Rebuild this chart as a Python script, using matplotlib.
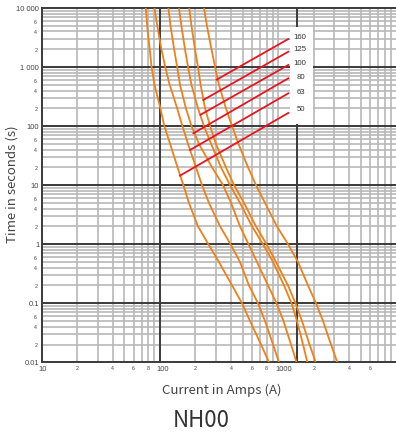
import matplotlib
matplotlib.use('Agg')
import matplotlib.pyplot as plt
from matplotlib.patches import Rectangle
from matplotlib.ticker import NullLocator
from matplotlib.transforms import ScaledTranslation

# Temps (s) auxquels les courants ont été relevés
times = [10000, 5000, 2000, 1000, 500, 200, 100, 50, 20, 10, 5, 2, 1,
         0.5, 0.2, 0.1, 0.05, 0.02, 0.01]

# Courant (A) de chaque calibre, un point par temps
amps_50 = [76, 78, 82, 85, 90, 101, 109, 122, 141, 158, 176, 210, 257, 316, 408, 495, 579, 717, 838]
amps_63 = [90, 95, 103, 111, 121, 140, 155, 173, 202, 227, 260, 323, 396, 476, 567, 676, 775, 906, 1018]
amps_80 = [118, 123, 132, 140, 148, 166, 185, 214, 276, 342, 400, 476, 562, 663, 822, 970, 1111, 1286, 1432]
amps_100 = [145, 152, 163, 173, 185, 210, 236, 271, 329, 392, 476, 602, 745, 906, 1122, 1299, 1446, 1626, 1767]
amps_125 = [177, 185, 198, 210, 221, 241, 266, 298, 362, 424, 515, 650, 798, 960, 1213, 1404, 1593, 1844, 2081]
amps_160 = [236, 250, 273, 293, 316, 362, 408, 462, 557, 650, 775, 979, 1213, 1474, 1791, 2093, 2399, 2803, 3169]

# Repères rouges : du point sur la courbe vers l'étiquette
ratings = ['160', '125', '100', '80', '63', '50']
pointer_start_amps = [302, 233, 221, 192, 180, 148]
pointer_start_times = [611, 277, 156, 75.5, 39.4, 14.5]
pointer_end_amps = [1220, 1220, 1220, 1220, 1220, 1220]
pointer_end_times = [2985, 1820, 1083, 645, 359, 167]
label_amps = [1520, 1520, 1520, 1560, 1560, 1560]
label_times = [3317, 2022, 1203, 686, 388, 195]

# Graduations
x_major = [10, 100, 1000]
x_major_labels = ['10', '100', '1000']
x_minor = [20, 40, 60, 80, 200, 400, 600, 800, 2000, 4000, 6000]
x_minor_labels = ['2', '4', '6', '8', '2', '4', '6', '8', '2', '4', '6']
y_major = [0.01, 0.1, 1, 10, 100, 1000, 10000]
y_major_labels = ['0.01', '0.1', '1', '10', '100', '1 000', '10 000']
y_minor = [0.02, 0.04, 0.06, 0.2, 0.4, 0.6, 2, 4, 6, 20, 40, 60, 200, 400, 600, 2000, 4000, 6000]
y_minor_labels = ['2', '4', '6'] * 6

ORANGE = '#f07f16'
RED = '#e8141e'
GRAY = '#b8b8b8'
DARK = '#3a3a3a'
TXT = '#444444'

fig = plt.figure(figsize=(3.96, 4.35), dpi=100)
ax = fig.add_axes([41.7 / 396, 71.7 / 435, 354.6 / 396, 354.3 / 435])
ax.set_xscale('log')
ax.set_yscale('log')
ax.set_xlim(10, 10000)
ax.set_ylim(0.01, 10000)

# Quadrillage
for d in [10, 100, 1000]:
    for k in range(2, 10):
        ax.axvline(k * d, color=GRAY, lw=1.2, zorder=1)
ax.axvline(1000, color=GRAY, lw=1.2, zorder=1)
for d in [0.01, 0.1, 1, 10, 100, 1000]:
    for k in range(2, 10):
        ax.axhline(k * d, color=GRAY, lw=1.2, zorder=1)
for v in [100, 1440]:
    ax.axvline(v, color=DARK, lw=1.4, zorder=2)
for v in [0.1, 1, 10, 100, 1000]:
    ax.axhline(v, color=DARK, lw=1.4, zorder=2)

for s in ['left', 'bottom', 'top']:
    ax.spines[s].set_color(DARK)
    ax.spines[s].set_linewidth(1.4)
    ax.spines[s].set_zorder(2)
ax.spines['right'].set_visible(False)

# Courbes
for amps in [amps_50, amps_63, amps_80, amps_100, amps_125, amps_160]:
    ax.plot(amps, times, color=ORANGE, lw=1.3, zorder=3, solid_joinstyle='round')

for i in range(len(ratings)):
    ax.plot([pointer_start_amps[i], pointer_end_amps[i]],
            [pointer_start_times[i], pointer_end_times[i]], color=RED, lw=1.3, zorder=4)
    ax.text(label_amps[i], label_times[i], ratings[i], ha='center', va='center',
            fontsize=5.6, color='#333333', family='Liberation Sans', zorder=6)

ax.add_patch(Rectangle((1261, 108.6), 1974 - 1261, 4765 - 108.6,
                       facecolor='white', edgecolor='none', zorder=5))

# Étiquettes des axes
for a in (ax.xaxis, ax.yaxis):
    a.set_major_locator(NullLocator())
    a.set_minor_locator(NullLocator())

xt = ax.get_xaxis_transform() + ScaledTranslation(-0.03, 0, fig.dpi_scale_trans)
for v, lab in zip(x_major, x_major_labels):
    ax.text(v, -0.017, lab, transform=xt, ha='left', va='center', fontsize=5.4,
            color=TXT, family='Liberation Sans')
for v, lab in zip(x_minor, x_minor_labels):
    ax.text(v, -0.015, lab, transform=ax.get_xaxis_transform(), ha='center', va='center',
            fontsize=3.8, color=TXT, family='Liberation Sans')
for v, lab in zip(y_major, y_major_labels):
    ax.text(-0.007, v, lab, transform=ax.get_yaxis_transform(), ha='right', va='center',
            fontsize=5.4, color=TXT, family='Liberation Sans')
for v, lab in zip(y_minor, y_minor_labels):
    ax.text(-0.013, v, lab, transform=ax.get_yaxis_transform(), ha='right', va='center',
            fontsize=3.8, color=TXT, family='Liberation Sans')

fig.text(12.5 / 396, 1 - 184.5 / 435, 'Time in seconds (s)', rotation=90, ha='center',
         va='center', fontsize=9.5, color=TXT, family='Noto Sans CJK SC')
fig.text(221.5 / 396, 1 - 390.7 / 435, 'Current in Amps (A)', ha='center', va='center',
         fontsize=9.5, color=TXT, family='Noto Sans CJK SC')
fig.text(201 / 396, 1 - 421 / 435, 'NH00', ha='center', va='center',
         fontsize=16, color='#333333', family='Noto Sans CJK SC')

fig.savefig('out.png', dpi=100)
